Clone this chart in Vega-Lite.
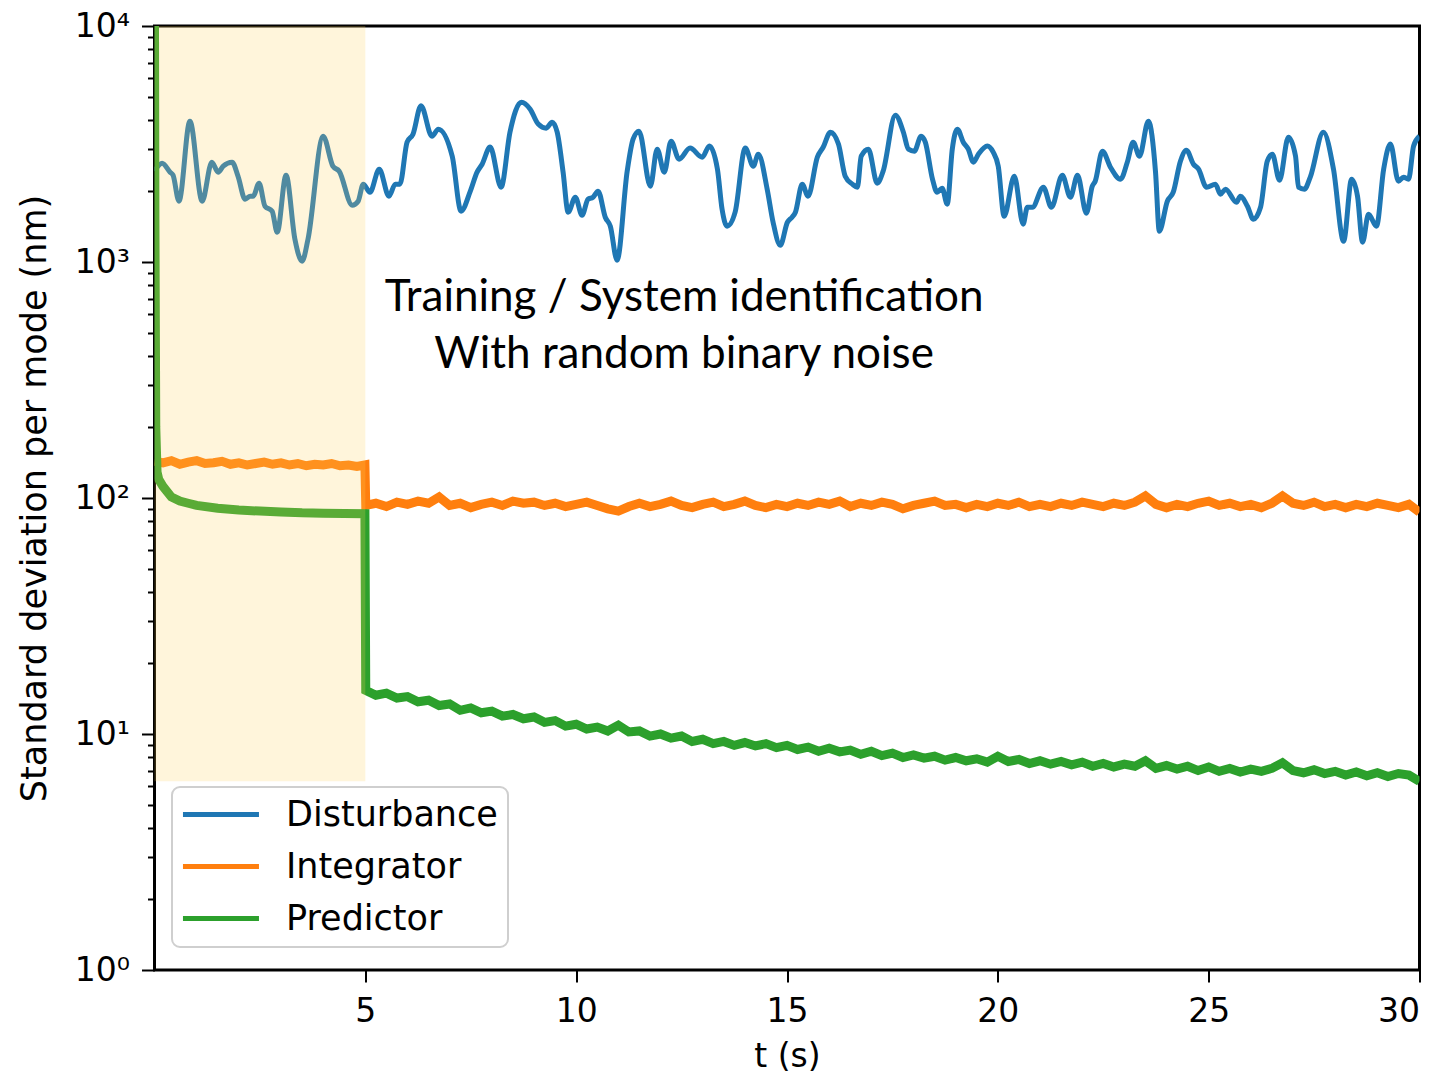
{
  "$schema": "https://vega.github.io/schema/vega-lite/v6.json",
  "width": 1265,
  "height": 944,
  "autosize": {"type": "none"},
  "padding": {"left": 154.5, "top": 26, "right": 22.5, "bottom": 106},
  "background": "white",
  "config": {
    "view": {"stroke": "black", "strokeWidth": 3},
    "font": "DejaVu Sans",
    "axis": {
      "domain": false,
      "grid": false,
      "tickColor": "black",
      "tickWidth": 2,
      "labelColor": "black",
      "labelFont": "DejaVu Sans",
      "labelFontSize": 33,
      "titleColor": "black",
      "titleFont": "DejaVu Sans",
      "titleFontSize": 33,
      "titleFontWeight": "normal"
    },
    "legend": {
      "orient": "none",
      "legendX": 17.5,
      "legendY": 761,
      "direction": "vertical",
      "fillColor": "rgba(255,255,255,0.8)",
      "strokeColor": "#cfcfcf",
      "strokeWidth": 2,
      "cornerRadius": 8,
      "padding": 10,
      "symbolType": "M-1.74,0H6.26",
      "symbolSize": 361,
      "symbolStrokeWidth": 5,
      "labelFont": "DejaVu Sans",
      "labelFontSize": 35,
      "labelColor": "black",
      "labelOffset": 69,
      "rowPadding": 16,
      "labelLimit": 400
    }
  },
  "datasets": {
    "disturbance": [
      {"t": 0.0, "v": 2430}, {"t": 0.18, "v": 2622}, {"t": 0.37, "v": 2402}, {"t": 0.44, "v": 2332},
      {"t": 0.58, "v": 1810}, {"t": 0.84, "v": 3952}, {"t": 1.13, "v": 1810}, {"t": 1.36, "v": 2648},
      {"t": 1.51, "v": 2402}, {"t": 1.63, "v": 2547}, {"t": 1.84, "v": 2648}, {"t": 1.98, "v": 2310},
      {"t": 2.15, "v": 1846}, {"t": 2.27, "v": 1900}, {"t": 2.34, "v": 1900}, {"t": 2.48, "v": 2157},
      {"t": 2.62, "v": 1723}, {"t": 2.79, "v": 1642}, {"t": 2.91, "v": 1337}, {"t": 3.12, "v": 2332},
      {"t": 3.33, "v": 1249}, {"t": 3.5, "v": 1008}, {"t": 3.64, "v": 1249}, {"t": 4.0, "v": 3409},
      {"t": 4.23, "v": 2547}, {"t": 4.38, "v": 2426}, {"t": 4.69, "v": 1740}, {"t": 4.83, "v": 1810},
      {"t": 4.95, "v": 2137}, {"t": 5.11, "v": 1976}, {"t": 5.33, "v": 2474}, {"t": 5.56, "v": 1900},
      {"t": 5.71, "v": 2137}, {"t": 5.82, "v": 2137}, {"t": 5.99, "v": 3219}, {"t": 6.13, "v": 3478},
      {"t": 6.32, "v": 4592}, {"t": 6.58, "v": 3409}, {"t": 6.73, "v": 3656}, {"t": 7.06, "v": 2809},
      {"t": 7.27, "v": 1642}, {"t": 7.49, "v": 1996}, {"t": 7.65, "v": 2402}, {"t": 7.77, "v": 2597},
      {"t": 7.96, "v": 3070}, {"t": 8.22, "v": 2075}, {"t": 8.43, "v": 3547}, {"t": 8.7, "v": 4756},
      {"t": 8.91, "v": 4443}, {"t": 9.1, "v": 3842}, {"t": 9.29, "v": 3691}, {"t": 9.43, "v": 3913},
      {"t": 9.55, "v": 3547}, {"t": 9.69, "v": 2402}, {"t": 9.81, "v": 1626}, {"t": 9.98, "v": 1882},
      {"t": 10.14, "v": 1578}, {"t": 10.28, "v": 1846}, {"t": 10.4, "v": 1882}, {"t": 10.52, "v": 1996},
      {"t": 10.69, "v": 1548}, {"t": 10.81, "v": 1418}, {"t": 10.97, "v": 1018}, {"t": 11.21, "v": 2426},
      {"t": 11.35, "v": 3314}, {"t": 11.49, "v": 3584}, {"t": 11.76, "v": 2095}, {"t": 11.92, "v": 3008},
      {"t": 12.09, "v": 2402}, {"t": 12.25, "v": 3251}, {"t": 12.44, "v": 2727}, {"t": 12.7, "v": 3040},
      {"t": 12.99, "v": 2781}, {"t": 13.16, "v": 3100}, {"t": 13.35, "v": 2474}, {"t": 13.46, "v": 1674},
      {"t": 13.58, "v": 1418}, {"t": 13.77, "v": 1626}, {"t": 14.01, "v": 3040}, {"t": 14.2, "v": 2547},
      {"t": 14.32, "v": 2863}, {"t": 14.53, "v": 2035}, {"t": 14.67, "v": 1474}, {"t": 14.84, "v": 1178},
      {"t": 15.01, "v": 1474}, {"t": 15.12, "v": 1548}, {"t": 15.2, "v": 1626}, {"t": 15.36, "v": 2137},
      {"t": 15.5, "v": 1900}, {"t": 15.72, "v": 2781}, {"t": 15.86, "v": 3070}, {"t": 16.03, "v": 3547},
      {"t": 16.22, "v": 3161}, {"t": 16.38, "v": 2310}, {"t": 16.55, "v": 2137}, {"t": 16.67, "v": 2075},
      {"t": 16.76, "v": 2809}, {"t": 16.93, "v": 3008}, {"t": 17.14, "v": 2157}, {"t": 17.28, "v": 2426},
      {"t": 17.57, "v": 4190}, {"t": 17.76, "v": 3547}, {"t": 17.88, "v": 3008}, {"t": 18.02, "v": 2949},
      {"t": 18.18, "v": 3409}, {"t": 18.28, "v": 3219}, {"t": 18.45, "v": 2244}, {"t": 18.56, "v": 1976},
      {"t": 18.68, "v": 2055}, {"t": 18.8, "v": 1758}, {"t": 18.92, "v": 3008}, {"t": 19.04, "v": 3656},
      {"t": 19.18, "v": 3219}, {"t": 19.3, "v": 3008}, {"t": 19.42, "v": 2648}, {"t": 19.54, "v": 2863},
      {"t": 19.75, "v": 3100}, {"t": 19.89, "v": 2920}, {"t": 20.01, "v": 2547}, {"t": 20.15, "v": 1563},
      {"t": 20.39, "v": 2310}, {"t": 20.6, "v": 1446}, {"t": 20.7, "v": 1707}, {"t": 20.82, "v": 1707},
      {"t": 21.08, "v": 2075}, {"t": 21.27, "v": 1707}, {"t": 21.53, "v": 2332}, {"t": 21.72, "v": 1882},
      {"t": 21.89, "v": 2332}, {"t": 22.1, "v": 1609}, {"t": 22.24, "v": 2095}, {"t": 22.31, "v": 2200},
      {"t": 22.48, "v": 2949}, {"t": 22.67, "v": 2522}, {"t": 22.91, "v": 2244}, {"t": 23.07, "v": 2648},
      {"t": 23.21, "v": 3219}, {"t": 23.36, "v": 2809}, {"t": 23.57, "v": 3952}, {"t": 23.74, "v": 2402},
      {"t": 23.83, "v": 1351}, {"t": 24.02, "v": 1810}, {"t": 24.16, "v": 1976}, {"t": 24.33, "v": 2674},
      {"t": 24.47, "v": 2978}, {"t": 24.64, "v": 2597}, {"t": 24.76, "v": 2474}, {"t": 24.95, "v": 2075},
      {"t": 25.16, "v": 2137}, {"t": 25.28, "v": 1938}, {"t": 25.4, "v": 2035}, {"t": 25.66, "v": 1792},
      {"t": 25.75, "v": 1900}, {"t": 25.92, "v": 1723}, {"t": 26.06, "v": 1518}, {"t": 26.23, "v": 1707},
      {"t": 26.39, "v": 2674}, {"t": 26.51, "v": 2863}, {"t": 26.68, "v": 2222}, {"t": 26.89, "v": 3376},
      {"t": 27.06, "v": 2809}, {"t": 27.13, "v": 2075}, {"t": 27.27, "v": 2035}, {"t": 27.41, "v": 2288},
      {"t": 27.72, "v": 3547}, {"t": 27.96, "v": 2474}, {"t": 28.2, "v": 1225}, {"t": 28.39, "v": 2244},
      {"t": 28.53, "v": 1900}, {"t": 28.65, "v": 1213}, {"t": 28.79, "v": 1594}, {"t": 28.98, "v": 1418},
      {"t": 29.15, "v": 2474}, {"t": 29.31, "v": 3161}, {"t": 29.5, "v": 2200}, {"t": 29.62, "v": 2288},
      {"t": 29.74, "v": 2244}, {"t": 29.86, "v": 3100}, {"t": 30.0, "v": 3409}
    ],
    "integrator": [
      {"t": 0.0, "v": 143}, {"t": 0.2, "v": 141}, {"t": 0.4, "v": 144}, {"t": 0.6, "v": 139},
      {"t": 0.8, "v": 142}, {"t": 1.0, "v": 144}, {"t": 1.2, "v": 140}, {"t": 1.4, "v": 141},
      {"t": 1.6, "v": 143}, {"t": 1.8, "v": 139}, {"t": 2.0, "v": 141}, {"t": 2.2, "v": 138},
      {"t": 2.4, "v": 140}, {"t": 2.6, "v": 142}, {"t": 2.8, "v": 139}, {"t": 3.0, "v": 141},
      {"t": 3.2, "v": 138}, {"t": 3.4, "v": 140}, {"t": 3.6, "v": 137}, {"t": 3.8, "v": 139},
      {"t": 4.0, "v": 138}, {"t": 4.2, "v": 140}, {"t": 4.4, "v": 137}, {"t": 4.6, "v": 138},
      {"t": 4.8, "v": 136}, {"t": 4.99, "v": 138},
      {"t": 5.01, "v": 93}, {"t": 5.25, "v": 95}, {"t": 5.5, "v": 92}, {"t": 5.75, "v": 96},
      {"t": 6.0, "v": 94}, {"t": 6.25, "v": 97}, {"t": 6.5, "v": 95}, {"t": 6.75, "v": 101},
      {"t": 7.0, "v": 93}, {"t": 7.25, "v": 95}, {"t": 7.5, "v": 91}, {"t": 7.75, "v": 94},
      {"t": 8.0, "v": 96}, {"t": 8.25, "v": 93}, {"t": 8.5, "v": 97}, {"t": 8.75, "v": 95},
      {"t": 9.0, "v": 96}, {"t": 9.25, "v": 93}, {"t": 9.5, "v": 95}, {"t": 9.75, "v": 92},
      {"t": 10.0, "v": 94}, {"t": 10.25, "v": 96}, {"t": 10.5, "v": 93}, {"t": 10.75, "v": 90},
      {"t": 11.0, "v": 88}, {"t": 11.25, "v": 92}, {"t": 11.5, "v": 95}, {"t": 11.75, "v": 92},
      {"t": 12.0, "v": 94}, {"t": 12.25, "v": 97}, {"t": 12.5, "v": 93}, {"t": 12.75, "v": 91},
      {"t": 13.0, "v": 94}, {"t": 13.25, "v": 96}, {"t": 13.5, "v": 92}, {"t": 13.75, "v": 94},
      {"t": 14.0, "v": 97}, {"t": 14.25, "v": 93}, {"t": 14.5, "v": 91}, {"t": 14.75, "v": 94},
      {"t": 15.0, "v": 92}, {"t": 15.25, "v": 95}, {"t": 15.5, "v": 93}, {"t": 15.75, "v": 96},
      {"t": 16.0, "v": 94}, {"t": 16.25, "v": 97}, {"t": 16.5, "v": 92}, {"t": 16.75, "v": 95},
      {"t": 17.0, "v": 93}, {"t": 17.25, "v": 96}, {"t": 17.5, "v": 94}, {"t": 17.75, "v": 90},
      {"t": 18.0, "v": 93}, {"t": 18.25, "v": 95}, {"t": 18.5, "v": 97}, {"t": 18.75, "v": 93},
      {"t": 19.0, "v": 94}, {"t": 19.25, "v": 91}, {"t": 19.5, "v": 94}, {"t": 19.75, "v": 92},
      {"t": 20.0, "v": 95}, {"t": 20.25, "v": 93}, {"t": 20.5, "v": 96}, {"t": 20.75, "v": 92},
      {"t": 21.0, "v": 94}, {"t": 21.25, "v": 92}, {"t": 21.5, "v": 95}, {"t": 21.75, "v": 93},
      {"t": 22.0, "v": 96}, {"t": 22.25, "v": 94}, {"t": 22.5, "v": 92}, {"t": 22.75, "v": 95},
      {"t": 23.0, "v": 93}, {"t": 23.25, "v": 96}, {"t": 23.5, "v": 102}, {"t": 23.75, "v": 94},
      {"t": 24.0, "v": 91}, {"t": 24.25, "v": 94}, {"t": 24.5, "v": 92}, {"t": 24.75, "v": 95},
      {"t": 25.0, "v": 97}, {"t": 25.25, "v": 93}, {"t": 25.5, "v": 95}, {"t": 25.75, "v": 92},
      {"t": 26.0, "v": 94}, {"t": 26.25, "v": 91}, {"t": 26.5, "v": 95}, {"t": 26.75, "v": 102},
      {"t": 27.0, "v": 95}, {"t": 27.25, "v": 93}, {"t": 27.5, "v": 96}, {"t": 27.75, "v": 92},
      {"t": 28.0, "v": 94}, {"t": 28.25, "v": 91}, {"t": 28.5, "v": 94}, {"t": 28.75, "v": 92},
      {"t": 29.0, "v": 95}, {"t": 29.25, "v": 93}, {"t": 29.5, "v": 91}, {"t": 29.75, "v": 94},
      {"t": 30.0, "v": 87}
    ],
    "predictor": [
      {"t": 0.0, "v": 10000}, {"t": 0.01, "v": 1500}, {"t": 0.03, "v": 200}, {"t": 0.06, "v": 129},
      {"t": 0.1, "v": 120}, {"t": 0.2, "v": 112}, {"t": 0.4, "v": 101}, {"t": 0.6, "v": 97},
      {"t": 0.8, "v": 95}, {"t": 1.0, "v": 93}, {"t": 1.5, "v": 90.5}, {"t": 2.0, "v": 89},
      {"t": 2.5, "v": 88}, {"t": 3.0, "v": 87.2}, {"t": 3.5, "v": 86.5}, {"t": 4.0, "v": 86.2},
      {"t": 4.5, "v": 85.9}, {"t": 4.99, "v": 85.7},
      {"t": 5.01, "v": 15.3}, {"t": 5.25, "v": 14.6}, {"t": 5.5, "v": 14.9}, {"t": 5.75, "v": 14.2},
      {"t": 6.0, "v": 14.4}, {"t": 6.25, "v": 13.7}, {"t": 6.5, "v": 13.9}, {"t": 6.75, "v": 13.2},
      {"t": 7.0, "v": 13.4}, {"t": 7.25, "v": 12.6}, {"t": 7.5, "v": 12.9}, {"t": 7.75, "v": 12.3},
      {"t": 8.0, "v": 12.5}, {"t": 8.25, "v": 11.9}, {"t": 8.5, "v": 12.1}, {"t": 8.75, "v": 11.6},
      {"t": 9.0, "v": 11.8}, {"t": 9.25, "v": 11.2}, {"t": 9.5, "v": 11.4}, {"t": 9.75, "v": 10.8},
      {"t": 10.0, "v": 11.0}, {"t": 10.25, "v": 10.5}, {"t": 10.5, "v": 10.7}, {"t": 10.75, "v": 10.3},
      {"t": 11.0, "v": 10.9}, {"t": 11.25, "v": 10.2}, {"t": 11.5, "v": 10.3}, {"t": 11.75, "v": 9.8},
      {"t": 12.0, "v": 10.0}, {"t": 12.25, "v": 9.6}, {"t": 12.5, "v": 9.8}, {"t": 12.75, "v": 9.3},
      {"t": 13.0, "v": 9.5}, {"t": 13.25, "v": 9.1}, {"t": 13.5, "v": 9.3}, {"t": 13.75, "v": 8.95},
      {"t": 14.0, "v": 9.2}, {"t": 14.25, "v": 8.9}, {"t": 14.5, "v": 9.1}, {"t": 14.75, "v": 8.75},
      {"t": 15.0, "v": 8.95}, {"t": 15.25, "v": 8.6}, {"t": 15.5, "v": 8.8}, {"t": 15.75, "v": 8.45},
      {"t": 16.0, "v": 8.7}, {"t": 16.25, "v": 8.4}, {"t": 16.5, "v": 8.55}, {"t": 16.75, "v": 8.2},
      {"t": 17.0, "v": 8.45}, {"t": 17.25, "v": 8.1}, {"t": 17.5, "v": 8.3}, {"t": 17.75, "v": 7.95},
      {"t": 18.0, "v": 8.15}, {"t": 18.25, "v": 7.9}, {"t": 18.5, "v": 8.05}, {"t": 18.75, "v": 7.75},
      {"t": 19.0, "v": 7.95}, {"t": 19.25, "v": 7.7}, {"t": 19.5, "v": 7.85}, {"t": 19.75, "v": 7.6},
      {"t": 20.0, "v": 8.05}, {"t": 20.25, "v": 7.65}, {"t": 20.5, "v": 7.8}, {"t": 20.75, "v": 7.5},
      {"t": 21.0, "v": 7.7}, {"t": 21.25, "v": 7.45}, {"t": 21.5, "v": 7.65}, {"t": 21.75, "v": 7.4},
      {"t": 22.0, "v": 7.6}, {"t": 22.25, "v": 7.3}, {"t": 22.5, "v": 7.5}, {"t": 22.75, "v": 7.25},
      {"t": 23.0, "v": 7.45}, {"t": 23.25, "v": 7.3}, {"t": 23.5, "v": 7.7}, {"t": 23.75, "v": 7.15},
      {"t": 24.0, "v": 7.35}, {"t": 24.25, "v": 7.1}, {"t": 24.5, "v": 7.3}, {"t": 24.75, "v": 7.0},
      {"t": 25.0, "v": 7.25}, {"t": 25.25, "v": 6.95}, {"t": 25.5, "v": 7.15}, {"t": 25.75, "v": 6.9},
      {"t": 26.0, "v": 7.1}, {"t": 26.25, "v": 6.95}, {"t": 26.5, "v": 7.15}, {"t": 26.75, "v": 7.55},
      {"t": 27.0, "v": 7.0}, {"t": 27.25, "v": 6.85}, {"t": 27.5, "v": 7.05}, {"t": 27.75, "v": 6.8},
      {"t": 28.0, "v": 6.95}, {"t": 28.25, "v": 6.7}, {"t": 28.5, "v": 6.9}, {"t": 28.75, "v": 6.65},
      {"t": 29.0, "v": 6.85}, {"t": 29.25, "v": 6.6}, {"t": 29.5, "v": 6.8}, {"t": 29.75, "v": 6.7},
      {"t": 30.0, "v": 6.3}
    ],
    "training": [{"t0": 0, "t1": 5, "v0": 6.31, "v1": 10000}],
    "notes": [
      {"t": 12.56, "v": 705, "label": "Training / System identification"},
      {"t": 12.56, "v": 405, "label": "With random binary noise"}
    ]
  },
  "encoding": {
    "x": {
      "field": "t",
      "type": "quantitative",
      "scale": {"domain": [0, 30], "nice": false, "zero": false},
      "axis": {
        "title": "t (s)",
        "values": [5, 10, 15, 20, 25, 30],
        "tickSize": 12,
        "labelPadding": 13,
        "titlePadding": 12
      }
    },
    "y": {
      "field": "v",
      "type": "quantitative",
      "scale": {"type": "log", "domain": [1, 10000], "nice": false},
      "axis": {
        "title": "Standard deviation per mode (nm)",
        "titleFontSize": 35,
        "values": [1, 2, 3, 4, 5, 6, 7, 8, 9, 10, 20, 30, 40, 50, 60, 70, 80, 90, 100, 200, 300, 400, 500, 600, 700, 800, 900, 1000, 2000, 3000, 4000, 5000, 6000, 7000, 8000, 9000, 10000],
        "labelExpr": "datum.value == 1 ? '10⁰' : datum.value == 10 ? '10¹' : datum.value == 100 ? '10²' : datum.value == 1000 ? '10³' : datum.value == 10000 ? '10⁴' : ''",
        "labelOverlap": false,
        "tickSize": {"condition": {"test": "indexof([1, 10, 100, 1000, 10000], datum.value) >= 0", "value": 13}, "value": 7},
        "labelPadding": 12,
        "titlePadding": 22
      }
    }
  },
  "layer": [
    {
      "data": {"name": "disturbance"},
      "mark": {"type": "line", "strokeWidth": 5, "interpolate": "monotone", "clip": true},
      "encoding": {
        "color": {
          "datum": "Disturbance",
          "type": "nominal",
          "scale": {"domain": ["Disturbance", "Integrator", "Predictor"], "range": ["#1f77b4", "#ff7f0e", "#2ca02c"]},
          "legend": {"title": null}
        }
      }
    },
    {
      "data": {"name": "integrator"},
      "mark": {"type": "line", "strokeWidth": 9, "clip": true},
      "encoding": {"color": {"datum": "Integrator", "type": "nominal"}}
    },
    {
      "data": {"name": "predictor"},
      "mark": {"type": "line", "strokeWidth": 9, "clip": true},
      "encoding": {"color": {"datum": "Predictor", "type": "nominal"}}
    },
    {
      "data": {"name": "training"},
      "mark": {"type": "rect", "color": "#FFD25A", "opacity": 0.22},
      "encoding": {
        "x": {"field": "t0", "type": "quantitative"},
        "x2": {"field": "t1"},
        "y": {"field": "v0", "type": "quantitative"},
        "y2": {"field": "v1"}
      }
    },
    {
      "data": {"name": "notes"},
      "mark": {"type": "text", "font": "Lato", "fontSize": 44, "color": "black", "align": "center", "baseline": "middle"},
      "encoding": {"text": {"field": "label"}}
    }
  ]
}
